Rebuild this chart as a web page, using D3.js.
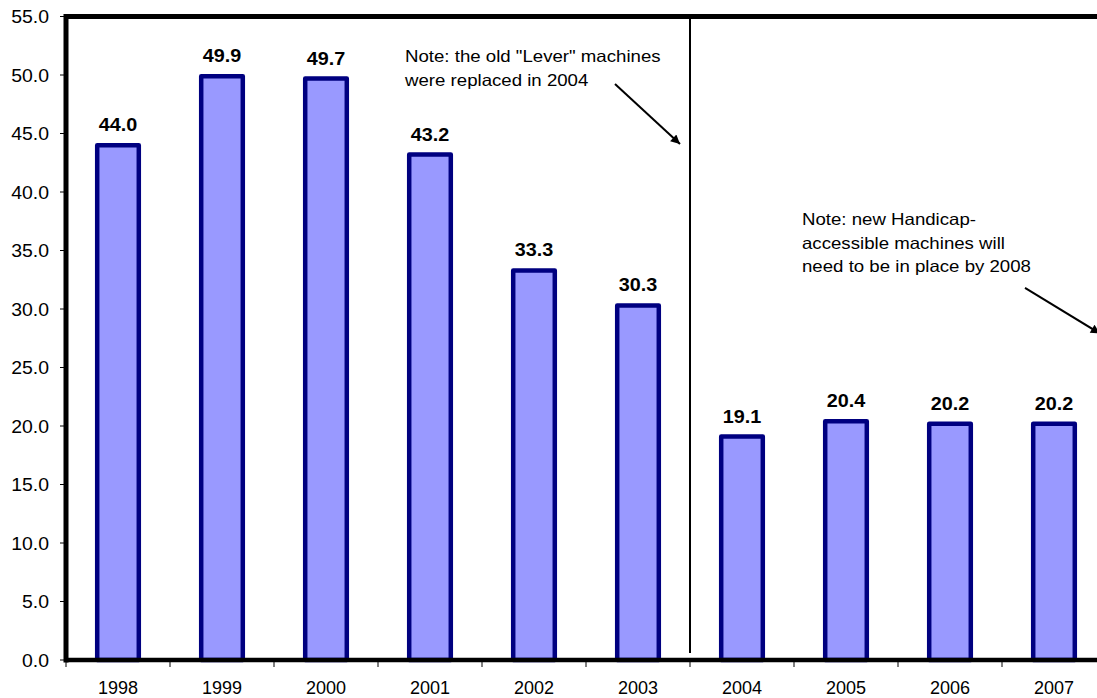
<!DOCTYPE html>
<html>
<head>
<meta charset="utf-8">
<script src="https://cdn.jsdelivr.net/npm/d3@7"></script>
<style>
  html, body { margin: 0; padding: 0; background: #fff; }
  svg { display: block; }
  text { font-family: Arial, "Liberation Sans", sans-serif; fill: #000; }
</style>
</head>
<body>
<svg id="chart" width="1097" height="698"></svg>
<script>
// Average values per year
const years = ["1998", "1999", "2000", "2001", "2002", "2003", "2004", "2005", "2006", "2007"];
const values = [44.0, 49.9, 49.7, 43.2, 33.3, 30.3, 19.1, 20.4, 20.2, 20.2];
const yTicks = [0, 5, 10, 15, 20, 25, 30, 35, 40, 45, 50, 55];

const noteLever = ["Note: the old \"Lever\" machines", "were replaced in 2004"];
const noteHandicap = ["Note: new Handicap-", "accessible machines will", "need to be in place by 2008"];

const W = 1097, H = 698;
const plotLeft = 66, plotTop = 16.5, plotBottom = 660;
const step = 104;
const plotRight = plotLeft + step * years.length;   // plot runs past the right edge

const svg = d3.select("#chart");

const x = d3.scaleBand().domain(years).range([plotLeft, plotRight])
  .paddingInner(0.6).paddingOuter(0.3);
const y = d3.scaleLinear().domain([0, 55]).range([plotBottom, plotTop]);

// text helper: places text at (tx, ty) with a slight horizontal stretch
function place(sel, fx, fy, sx) {
  sel.attr("transform", (d, i) => `translate(${fx(d, i)},${fy(d, i)}) scale(${sx},1)`);
}

// y tick marks and labels
svg.append("g").selectAll("line").data(yTicks).join("line")
  .attr("x1", plotLeft - 6).attr("x2", plotLeft)
  .attr("y1", d => y(d)).attr("y2", d => y(d))
  .attr("stroke", "#000").attr("stroke-width", 1);
svg.append("g").selectAll("text").data(yTicks).join("text")
  .attr("text-anchor", "end").attr("font-size", 18)
  .call(place, () => plotLeft - 17, d => y(d) + 6.5, 1.08)
  .text(d => d.toFixed(1));

// x tick marks at category boundaries
const bounds = d3.range(years.length + 1).map(i => plotLeft + i * x.step());
svg.append("g").selectAll("line").data(bounds).join("line")
  .attr("x1", d => d).attr("x2", d => d)
  .attr("y1", plotBottom).attr("y2", plotBottom + 7)
  .attr("stroke", "#000").attr("stroke-width", 1);
svg.append("g").selectAll("text").data(years).join("text")
  .attr("text-anchor", "middle").attr("font-size", 18)
  .call(place, d => x(d) + x.bandwidth() / 2, () => plotBottom + 33.5, 1.0)
  .text(d => d);

// bars
const data = years.map((yr, i) => ({ yr, v: values[i] }));
svg.append("g").selectAll("rect").data(data).join("rect")
  .attr("x", d => x(d.yr)).attr("width", x.bandwidth())
  .attr("y", d => y(d.v)).attr("height", d => plotBottom - y(d.v))
  .attr("fill", "#9999ff").attr("stroke", "#000080").attr("stroke-width", 4.5)
  .attr("stroke-linejoin", "round");

// value labels
svg.append("g").selectAll("text").data(data).join("text")
  .attr("text-anchor", "middle").attr("font-size", 18).attr("font-weight", "bold")
  .call(place, d => x(d.yr) + x.bandwidth() / 2, d => y(d.v) - 14, 1.1)
  .text(d => d.v.toFixed(1));

// plot frame: left axis, top border, baseline
svg.append("line").attr("x1", plotLeft).attr("x2", plotLeft).attr("y1", plotTop - 2.5).attr("y2", plotBottom + 2.5)
  .attr("stroke", "#000").attr("stroke-width", 5);
svg.append("line").attr("x1", plotLeft).attr("x2", W).attr("y1", plotTop).attr("y2", plotTop)
  .attr("stroke", "#000").attr("stroke-width", 5);
svg.append("line").attr("x1", plotLeft).attr("x2", W).attr("y1", plotBottom).attr("y2", plotBottom)
  .attr("stroke", "#000").attr("stroke-width", 4.5);

// divider between the old and new machine years
const divX = plotLeft + years.indexOf("2004") * x.step();
svg.append("line").attr("x1", divX).attr("x2", divX)
  .attr("y1", plotTop).attr("y2", y(0.6))
  .attr("stroke", "#000").attr("stroke-width", 2);

// arrowhead marker
svg.append("defs").append("marker")
  .attr("id", "arrow").attr("viewBox", "0 0 10 10")
  .attr("refX", 10).attr("refY", 5)
  .attr("markerWidth", 6).attr("markerHeight", 4.6)
  .attr("markerUnits", "strokeWidth")
  .attr("orient", "auto")
  .append("path").attr("d", "M0,0 L10,5 L0,10 Z").attr("fill", "#000");

function note(lines, tx, ty, lh) {
  svg.append("g").selectAll("text").data(lines).join("text")
    .attr("font-size", 16.5)
    .call(place, () => tx, (d, i) => ty + i * lh, 1.13)
    .text(d => d);
}

note(noteLever, 405, 62, 24);
svg.append("line")
  .attr("x1", 615).attr("y1", 84).attr("x2", divX - 10).attr("y2", y(44.1))
  .attr("stroke", "#000").attr("stroke-width", 2).attr("marker-end", "url(#arrow)");

note(noteHandicap, 802, 225, 23.5);
svg.append("line")
  .attr("x1", 1025).attr("y1", y(31.8)).attr("x2", W + 3).attr("y2", y(27.9))
  .attr("stroke", "#000").attr("stroke-width", 2).attr("marker-end", "url(#arrow)");
</script>
</body>
</html>
